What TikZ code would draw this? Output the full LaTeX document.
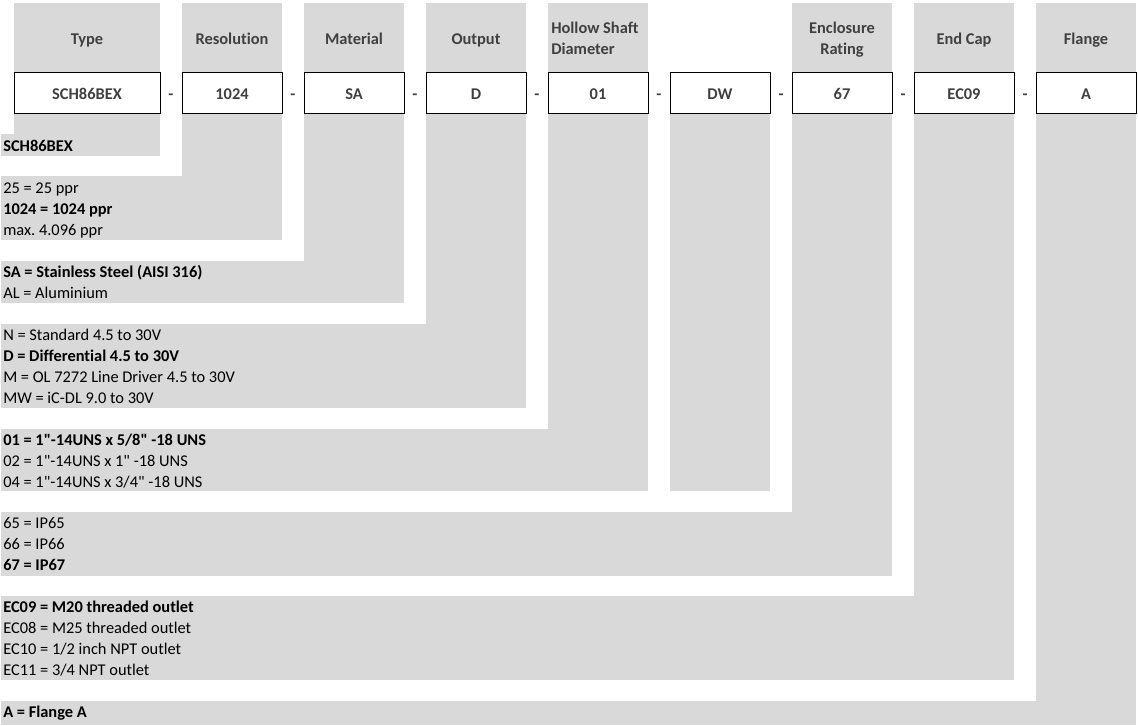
\documentclass[tikz,border=0pt]{standalone}
\usepackage{fontspec}
\setmainfont{Carlito}[Ligatures={TeXOff,NoCommon}]
\definecolor{bandgray}{HTML}{D9D9D9}
\definecolor{hdrtext}{HTML}{404040}
\newcommand{\cellfont}{\fontsize{12.3}{15.75}\selectfont\frenchspacing}
\begin{document}
\begin{tikzpicture}[x=0.75pt,y=-0.75pt,
  every node/.style={inner sep=0pt, font=\cellfont},
  graycell/.style={fill=bandgray, draw=none},
  codebox/.style={draw=black, line width=0.75pt, fill=white, minimum width=75pt, minimum height=30.75pt,
     text height=10.5pt, text depth=0pt, font=\cellfont\bfseries, text=hdrtext},
  widebox/.style={codebox, minimum width=109.5pt},
  hdr/.style={anchor=base, font=\cellfont\bfseries, text=hdrtext, align=center},
  sep/.style={anchor=base, font=\cellfont\bfseries, text=hdrtext},
  item/.style={anchor=base west, text=black},
  bitem/.style={item, font=\cellfont\bfseries}]
\useasboundingbox (0,0) rectangle (1138,725);
% gray columns and bands
\fill[graycell] (14,3) rectangle (160,156);   \fill[graycell] (1,134) rectangle (160,156);
\fill[graycell] (182,3) rectangle (282,240);  \fill[graycell] (1,176) rectangle (282,240);
\fill[graycell] (304,3) rectangle (404,303);  \fill[graycell] (1,261) rectangle (404,303);
\fill[graycell] (426,3) rectangle (526,408);  \fill[graycell] (1,324) rectangle (526,408);
\fill[graycell] (548,3) rectangle (648,491);  \fill[graycell] (1,429) rectangle (648,491);
\fill[graycell] (670,113) rectangle (770,491);
\fill[graycell] (792,3) rectangle (892,576);  \fill[graycell] (1,512) rectangle (892,576);
\fill[graycell] (914,3) rectangle (1014,680); \fill[graycell] (1,596) rectangle (1014,680);
\fill[graycell] (1036,3) rectangle (1136,725); \fill[graycell] (1,701) rectangle (1136,725);
% headers
\node[hdr] (hType) at (87,44) {Type};
\node[hdr] (hRes) at (232,44) {Resolution};
\node[hdr] (hMat) at (354,44) {Material};
\node[hdr] (hOut) at (476,44) {Output};
\node[hdr, anchor=base west] (hHol1) at (551,33) {Hollow Shaft};
\node[hdr, anchor=base west] (hHol2) at (551,54) {Diameter};
\node[hdr] (hEnc1) at (842,33) {Enclosure};
\node[hdr] (hEnc2) at (842,54) {Rating};
\node[hdr] (hEnd) at (964,44) {End Cap};
\node[hdr] (hFla) at (1086,44) {Flange};
% code boxes
\node[widebox] (bType) at (87,92.5) {SCH86BEX};
\node[codebox] (bRes) at (232,92.5) {1024};
\node[codebox] (bMat) at (354,92.5) {SA};
\node[codebox] (bOut) at (476,92.5) {D};
\node[codebox] (bHol) at (598,92.5) {01};
\node[codebox] (bDW) at (720,92.5) {DW};
\node[codebox] (bEnc) at (842,92.5) {67};
\node[codebox] (bEnd) at (964,92.5) {EC09};
\node[codebox] (bFla) at (1086,92.5) {A};
% separators
\node[sep] (s1) at (171,99.5) {-};
\node[sep] (s2) at (293,99.5) {-};
\node[sep] (s3) at (415,99.5) {-};
\node[sep] (s4) at (537,99.5) {-};
\node[sep] (s5) at (659,99.5) {-};
\node[sep] (s6) at (781,99.5) {-};
\node[sep] (s7) at (903,99.5) {-};
\node[sep] (s8) at (1025,99.5) {-};
% band texts
\node[bitem] (t1a) at (3,151) {SCH86BEX};
\node[item]  (t2a) at (3,193) {25 = 25 ppr};
\node[bitem] (t2b) at (3,214) {1024 = 1024 ppr};
\node[item]  (t2c) at (3,235) {max. 4.096 ppr};
\node[bitem] (t3a) at (3,277) {SA = Stainless Steel (AISI 316)};
\node[item]  (t3b) at (3,298) {AL = Aluminium};
\node[item]  (t4a) at (3,340) {N = Standard 4.5 to 30V};
\node[bitem] (t4b) at (3,361) {D = Differential 4.5 to 30V};
\node[item]  (t4c) at (3,382) {M = OL 7272 Line Driver 4.5 to 30V};
\node[item]  (t4d) at (3,403) {MW = iC-DL 9.0 to 30V};
\node[bitem] (t5a) at (3,445) {01 = 1"-14UNS x 5/8" -18 UNS};
\node[item]  (t5b) at (3,466) {02 = 1"-14UNS x 1" -18 UNS};
\node[item]  (t5c) at (3,487) {04 = 1"-14UNS x 3/4" -18 UNS};
\node[item]  (t6a) at (3,528) {65 = IP65};
\node[item]  (t6b) at (3,549) {66 = IP66};
\node[bitem] (t6c) at (3,570) {67 = IP67};
\node[bitem] (t7a) at (3,612) {EC09 = M20 threaded outlet};
\node[item]  (t7b) at (3,633) {EC08 = M25 threaded outlet};
\node[item]  (t7c) at (3,654) {EC10 = 1/2 inch NPT outlet};
\node[item]  (t7d) at (3,675) {EC11 = 3/4 NPT outlet};
\node[bitem] (t8a) at (3,717) {A = Flange A};
\end{tikzpicture}
\end{document}
